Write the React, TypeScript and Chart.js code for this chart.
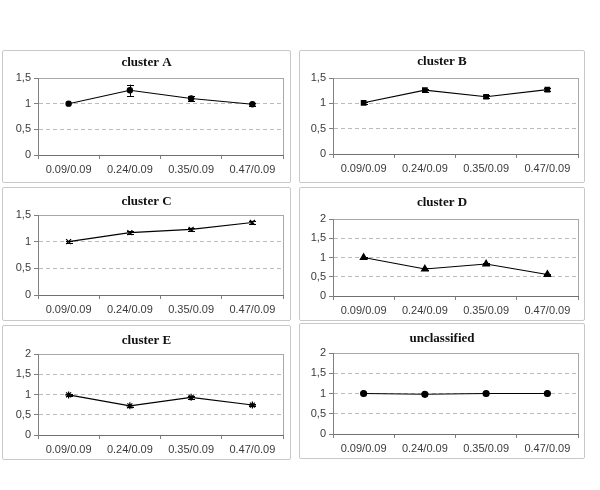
import React, { useEffect, useRef } from "react";
import { Chart, registerables } from "chart.js";

Chart.register(...registerables);

const categories = ["0.09/0.09", "0.24/0.09", "0.35/0.09", "0.47/0.09"];

const titles = ["cluster A", "cluster B", "cluster C", "cluster D", "cluster E", "unclassified"];

const clusterA = [1.0, 1.26, 1.1, 0.99];
const clusterAErr = [0.0, 0.11, 0.055, 0.03];
const clusterB = [1.01, 1.26, 1.13, 1.27];
const clusterBErr = [0.02, 0.03, 0.03, 0.03];
const clusterC = [1.0, 1.17, 1.23, 1.36];
const clusterCErr = [0.02, 0.03, 0.03, 0.03];
const clusterD = [1.0, 0.7, 0.83, 0.56];
const clusterDErr = [0.02, 0.03, 0.03, 0.02];
const clusterE = [0.99, 0.72, 0.93, 0.74];
const clusterEErr = [0.03, 0.03, 0.03, 0.03];
const unclassified = [1.0, 0.98, 1.0, 1.0];
const unclassifiedErr = [0.0, 0.0, 0.0, 0.0];

const yMax = [1.5, 1.5, 1.5, 2, 2, 2];
const yStep = 0.5;

const seriesValues = [clusterA, clusterB, clusterC, clusterD, clusterE, unclassified];
const seriesErrors = [clusterAErr, clusterBErr, clusterCErr, clusterDErr, clusterEErr, unclassifiedErr];

// layout (page pixel coordinates): panel box and plot area
const panelLayout = [
  { box: [2, 50, 291, 183], area: [38, 78, 283, 155], titleY: 63 },
  { box: [299, 50, 585, 183], area: [333, 78, 578, 154], titleY: 62 },
  { box: [2, 187, 291, 321], area: [38, 215, 283, 295], titleY: 202 },
  { box: [299, 187, 585, 321], area: [333, 219, 578, 296], titleY: 203 },
  { box: [2, 325, 291, 460], area: [38, 354, 283, 435], titleY: 341 },
  { box: [299, 323, 585, 459], area: [333, 353, 578, 434], titleY: 339 },
];

const markerStyles = [
  { style: "circle", radius: 2.6 },
  { style: "rect", radius: 3.2 },
  { style: "crossRot", radius: 3.5 },
  { style: "triangle", radius: 3.8 },
  { style: "star", radius: 3.5 },
  { style: "circle", radius: 3 },
];

const X_AXIS_H = 22;

function Panel({ idx }: { idx: number }) {
  const ref = useRef<HTMLCanvasElement | null>(null);
  const lay = panelLayout[idx];
  const [bl, bt, br, bb] = lay.box;
  const [al, at, ar, ab] = lay.area;
  const w = br - bl;
  const h = bb - bt;

  useEffect(() => {
    if (!ref.current) return;
    const max = yMax[idx];
    const values = seriesValues[idx];
    const errs = seriesErrors[idx];
    const title = titles[idx];
    const titleYLocal = lay.titleY - bt;

    const framePlugin = {
      id: "frame",
      beforeDraw(chart: any) {
        const { ctx, chartArea } = chart;
        ctx.save();
        ctx.strokeStyle = "#a8a8a8";
        ctx.lineWidth = 1;
        ctx.strokeRect(
          Math.round(chartArea.left) + 0.5,
          Math.round(chartArea.top) + 0.5,
          Math.round(chartArea.right - chartArea.left),
          Math.round(chartArea.bottom - chartArea.top)
        );
        ctx.restore();
      },
    };

    const titlePlugin = {
      id: "panelTitle",
      afterDraw(chart: any) {
        const { ctx } = chart;
        ctx.save();
        ctx.fillStyle = "#111";
        ctx.font = "bold 13px 'Liberation Serif', serif";
        ctx.textAlign = "center";
        ctx.textBaseline = "middle";
        ctx.fillText(title, chart.width / 2, titleYLocal);
        ctx.restore();
      },
    };

    const errorBarPlugin = {
      id: "errorBars",
      afterDatasetsDraw(chart: any) {
        const { ctx } = chart;
        const meta = chart.getDatasetMeta(0);
        const ys = chart.scales.y;
        ctx.save();
        ctx.strokeStyle = "#000";
        ctx.lineWidth = 1;
        meta.data.forEach((pt: any, i: number) => {
          const e = errs[i];
          if (!e) return;
          const yTop = ys.getPixelForValue(values[i] + e);
          const yBot = ys.getPixelForValue(values[i] - e);
          const x = Math.round(pt.x) + 0.5;
          ctx.beginPath();
          ctx.moveTo(x, yTop);
          ctx.lineTo(x, yBot);
          ctx.moveTo(x - 3.5, Math.round(yTop) + 0.5);
          ctx.lineTo(x + 3.5, Math.round(yTop) + 0.5);
          ctx.moveTo(x - 3.5, Math.round(yBot) + 0.5);
          ctx.lineTo(x + 3.5, Math.round(yBot) + 0.5);
          ctx.stroke();
        });
        ctx.restore();
      },
    };

    const chart = new Chart(ref.current, {
      type: "line",
      data: {
        labels: categories,
        datasets: [
          {
            data: values,
            borderColor: "#000",
            backgroundColor: "#000",
            borderWidth: 1.1,
            pointStyle: markerStyles[idx].style as any,
            pointRadius: markerStyles[idx].radius,
            pointBorderColor: "#000",
            pointBackgroundColor: "#000",
            pointBorderWidth: 1.2,
            tension: 0,
          },
        ],
      },
      options: {
        animation: false,
        responsive: false,
        events: [],
        layout: {
          padding: {
            left: 0,
            right: br - ar,
            top: at - bt,
            bottom: bb - ab - X_AXIS_H,
          },
        },
        plugins: {
          legend: { display: false },
          title: { display: false },
          tooltip: { enabled: false },
        },
        scales: {
          x: {
            type: "category",
            offset: true,
            grid: {
              display: true,
              drawOnChartArea: false,
              drawTicks: true,
              tickLength: 4,
              offset: true,
              color: "#808080",
              tickColor: "#808080",
            },
            border: { display: true, color: "#707070", width: 1 },
            ticks: {
              color: "#3a3a3a",
              font: { family: "'Liberation Sans', Arial, sans-serif", size: 11 },
              padding: 4,
              maxRotation: 0,
              autoSkip: false,
            },
            afterFit(scale: any) {
              scale.height = X_AXIS_H;
            },
          },
          y: {
            min: 0,
            max: max,
            grid: {
              display: true,
              drawTicks: true,
              tickLength: 4,
              color: (c: any) =>
                c.tick && (c.tick.value === 0 || c.tick.value === max) ? "rgba(0,0,0,0)" : "#bcbcbc",
              tickColor: "#808080",
            },
            border: { display: true, color: "#808080", width: 1, dash: [4, 3] },
            ticks: {
              stepSize: yStep,
              color: "#3a3a3a",
              font: { family: "'Liberation Sans', Arial, sans-serif", size: 11 },
              padding: 3,
              callback: (v: any) => String(v).replace(".", ","),
            },
            afterFit(scale: any) {
              scale.width = al - bl;
            },
          },
        },
      },
      plugins: [framePlugin, titlePlugin, errorBarPlugin],
    } as any);

    return () => chart.destroy();
  }, [idx]);

  return (
    <>
      <div
        style={{
          position: "absolute",
          left: bl,
          top: bt,
          width: w,
          height: h,
          boxSizing: "border-box",
          border: "1px solid #c8c8c8",
          borderRadius: 2,
        }}
      />
      <canvas
        ref={ref}
        width={w}
        height={h}
        style={{ position: "absolute", left: bl, top: bt, width: w, height: h }}
      />
    </>
  );
}

export default function App() {
  return (
    <div
      style={{
        position: "absolute",
        left: 0,
        top: 0,
        width: 600,
        height: 490,
        background: "#fff",
        overflow: "hidden",
      }}
    >
      {titles.map((_, i) => (
        <Panel key={i} idx={i} />
      ))}
    </div>
  );
}
